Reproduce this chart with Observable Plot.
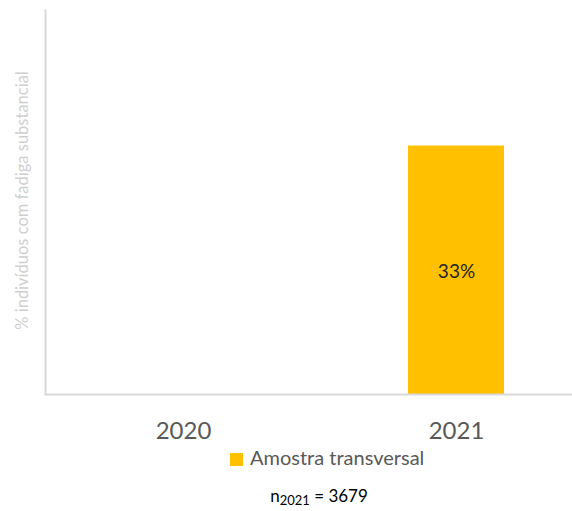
<!DOCTYPE html>
<html>
<head>
<meta charset="utf-8">
<script src="https://cdn.jsdelivr.net/npm/d3@7"></script>
<script src="https://cdn.jsdelivr.net/npm/@observablehq/plot@0.6"></script>
<style>
  body { margin: 0; background: #fff; font-family: Lato, "Open Sans", sans-serif; }
  #chart svg { display: block; overflow: visible; }
  .legend { position: relative; height: 30px; }
  .legend .sw { position: absolute; left: 230px; top: 8px; width: 13px; height: 13px; background: #FFC000; }
  .legend .lt { position: absolute; left: 250px; top: 0px; font-size: 20px; color: #595959; }
  .caption { text-align: center; font-size: 17px; color: #000; margin-top: 10px; padding-left: 66px; }
  .caption sub { font-size: 13px; vertical-align: -3px; }
</style>
</head>
<body>
<div id="chart"></div>
<div class="legend"><div class="sw"></div><div class="lt">Amostra transversal</div></div>
<div class="caption">n<sub>2021</sub> = 3679</div>
<script>
const years = ["2020", "2021"];
const values = [null, 33];
const seriesName = "Amostra transversal";
const yLabel = "% indivíduos com fadiga substancial";

const data = years.map((y, i) => ({year: y, value: values[i]})).filter(d => d.value != null);

const chart = Plot.plot({
  width: 572,
  height: 445,
  marginTop: 10,
  marginBottom: 51,
  marginLeft: 45,
  marginRight: 0,
  style: {fontFamily: "Lato, 'Open Sans', sans-serif", background: "#fff"},
  x: {type: "band", domain: years, range: [46.5, 592.5], paddingInner: 0.65, paddingOuter: 0.325},
  y: {domain: [0, 51], axis: null},
  marks: [
    Plot.barY(data, {x: "year", y: "value", fill: "#FFC000"}),
    Plot.ruleY([0], {stroke: "#d9d9d9", strokeWidth: 2}),
    Plot.frame({anchor: "left", stroke: "#d9d9d9", strokeWidth: 2}),
    Plot.axisX({tickSize: 0, tickPadding: 27, fontSize: 24, color: "#595959", label: null}),
    Plot.text(data, {x: "year", y: d => d.value / 2, text: d => d.value + "%", fontSize: 19, fill: "#262626", dy: 2}),
    Plot.text([yLabel], {frameAnchor: "left", textAnchor: "middle", rotate: -90, dx: -23, dy: -2, fontSize: 16.5, fill: "#cfcfcf"})
  ]
});
document.getElementById("chart").appendChild(chart);
</script>
</body>
</html>
